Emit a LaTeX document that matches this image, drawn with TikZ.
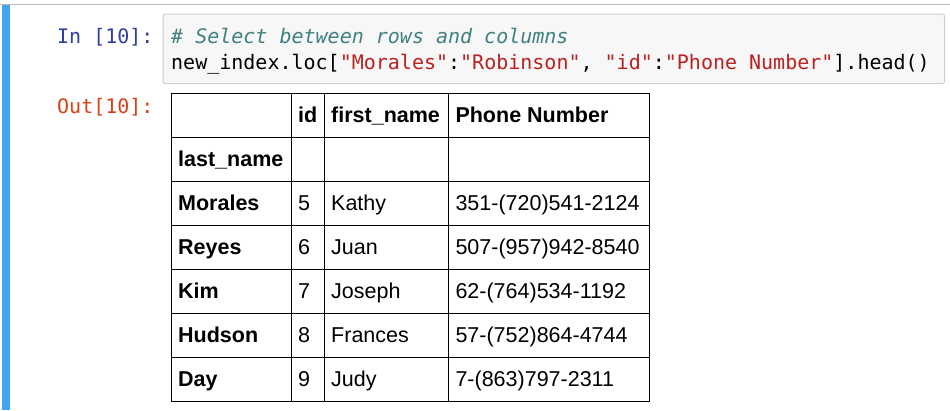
\documentclass[tikz,border=0pt]{standalone}
\usepackage{fontspec}
\setmainfont{Liberation Sans}
\newfontfamily\codefont{DejaVu Sans Mono}
\definecolor{inblue}{HTML}{303F9F}
\definecolor{outred}{HTML}{D84315}
\definecolor{cmtcol}{HTML}{408080}
\definecolor{strcol}{HTML}{BA2121}
\definecolor{barblue}{HTML}{42A5F5}
\definecolor{boxfill}{HTML}{F7F7F7}
\definecolor{boxline}{HTML}{CFCFCF}
\definecolor{topgray}{HTML}{BDBDBD}
\tikzset{
  codetext/.style={font=\codefont\fontsize{20}{24}\selectfont\frenchspacing, inner sep=0pt, anchor=base west},
  celltext/.style={font=\fontsize{21.5}{25}\selectfont, inner sep=0pt, anchor=base west},
  headtext/.style={celltext, font=\fontsize{21.5}{25}\selectfont\bfseries},
  gridline/.style={draw=black, line width=1pt},
  codebox/.style={draw=boxline, fill=boxfill, line width=1pt, rounded corners=2pt, inner sep=0pt, anchor=north west}
}
\begin{document}
\begin{tikzpicture}[x=1pt,y=-1pt]
\useasboundingbox (0,0) rectangle (950,410);
\fill[white] (0,0) rectangle (950,410);
\draw[topgray, line width=1pt] (0,4) -- (950,4);
\fill[barblue] (2,5) rectangle (10,410);
% code cell
\node[codebox, minimum width=781.5pt, minimum height=69.5pt] (cell) at (162.5,13.5) {};
\node[codetext, text=inblue] (inprompt) at (57,43) {In [10]:};
\node[codetext, text=cmtcol] (code1) at (171,43) {\itshape\# Select between rows and columns};
\node[codetext] (code2) at (171,69) {new\_index.loc[\textcolor{strcol}{"Morales"}:\textcolor{strcol}{"Robinson"}, \textcolor{strcol}{"id"}:\textcolor{strcol}{"Phone Number"}].head()};
\node[codetext, text=outred] (outprompt) at (57,113) {Out[10]:};
% table grid
\def\xa{171.5}\def\xb{291.5}\def\xc{324.5}\def\xd{448.5}\def\xe{649.5}
\draw[gridline] (\xa,93.3) rectangle (\xe,401.3);
\foreach \x in {\xb,\xc,\xd} \draw[gridline] (\x,93.3) -- (\x,401.3);
\foreach \y in {137.3,181.3,225.3,269.3,313.3,357.3} \draw[gridline] (\xa,\y) -- (\xe,\y);
% header
\node[headtext] (hid) at (298,122.6) {id};
\node[headtext] (hfirst) at (331,122.6) {first\_name};
\node[headtext] (hphone) at (455.3,122.6) {Phone Number};
\node[headtext] (hlast) at (178,166.6) {last\_name};
% rows
\foreach \n/\i/\f/\p [count=\k from 0] in {Morales/5/Kathy/351-(720)541-2124, Reyes/6/Juan/507-(957)942-8540, Kim/7/Joseph/62-(764)534-1192, Hudson/8/Frances/57-(752)864-4744, Day/9/Judy/7-(863)797-2311}{
  \pgfmathsetmacro{\yy}{210.6+44*\k}
  \node[headtext] (rn\k) at (178,\yy) {\n};
  \node[celltext] (ri\k) at (298,\yy) {\i};
  \node[celltext] (rf\k) at (331,\yy) {\f};
  \node[celltext] (rp\k) at (455.3,\yy) {\p};
}
\end{tikzpicture}
\end{document}
